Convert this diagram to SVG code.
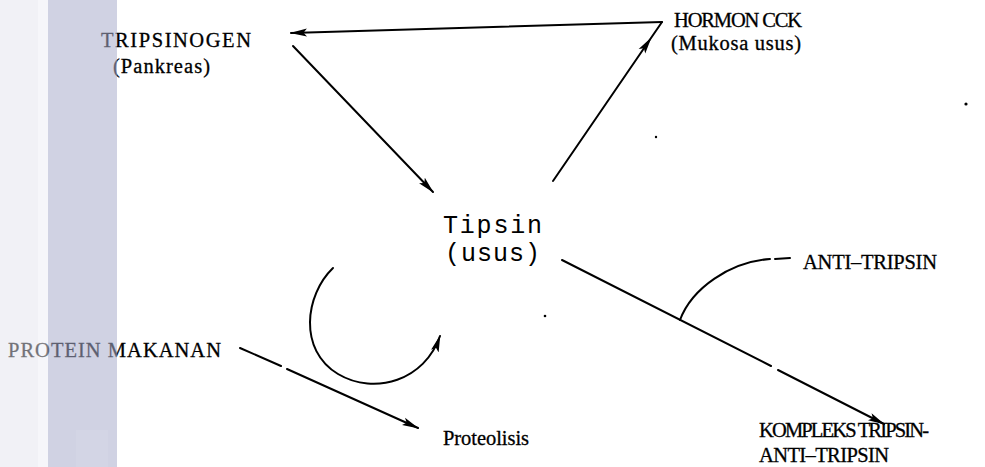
<svg xmlns="http://www.w3.org/2000/svg" width="985" height="467" viewBox="0 0 985 467">
<style>
.t{font-family:"Liberation Serif","Times New Roman",serif;font-size:20.5px;fill:#000;stroke:#000;stroke-width:0.3}
.m{font-family:"Liberation Mono","Courier New",monospace;font-size:25px;fill:#000}
.c{fill:none;stroke:#000;stroke-width:2;stroke-linecap:round}
</style>
<defs>
<marker id="ah" viewBox="0 0 17 9" refX="16" refY="4.5" markerWidth="17" markerHeight="9" markerUnits="userSpaceOnUse" orient="auto">
<path d="M0,0.5 L17,4.5 L0,8.5 L3.5,4.5 Z" fill="#000"/>
</marker>
</defs>
<rect width="985" height="467" fill="#fff"/>
<g id="connectors">
<path class="c" d="M662,22 L291,33" marker-end="url(#ah)"/>
<path class="c" d="M293,46 L433,192" marker-end="url(#ah)"/>
<path class="c" d="M553,181 L651,38 L662,22" marker-mid="url(#ah)"/>
<path class="c" d="M240,348 L281,366 M287,369 L418,428" marker-end="url(#ah)"/>
<path class="c" d="M562,260 L771,366 M778,370 L884,424" marker-end="url(#ah)"/>
<path class="c" d="M790,258 L775,259 M770,259 C730,262 692,288 680,320"/>
<path class="c" d="M333,268 C305,295 298,350 338,374 C375,396 425,380 440,336" marker-end="url(#ah)"/>
</g>
<g id="node-tripsinogen">
<text class="t" x="101" y="47" textLength="150" lengthAdjust="spacing">TRIPSINOGEN</text>
<text class="t" x="113" y="73" textLength="97" lengthAdjust="spacing">(Pankreas)</text>
</g>
<g id="node-hormon">
<text class="t" x="674" y="27" textLength="128" lengthAdjust="spacing">HORMON CCK</text>
<text class="t" x="671" y="50" textLength="130" lengthAdjust="spacing">(Mukosa usus)</text>
</g>
<g id="node-tipsin">
<text class="m" x="443" y="233" textLength="99" lengthAdjust="spacing">Tipsin</text>
<text class="m" x="445" y="261" textLength="95" lengthAdjust="spacing">(usus)</text>
</g>
<g id="node-antitripsin">
<text class="t" x="803" y="269" textLength="134" lengthAdjust="spacing">ANTI–TRIPSIN</text>
</g>
<g id="node-protein">
<text class="t" x="8" y="357" textLength="213" lengthAdjust="spacing">PROTEIN MAKANAN</text>
</g>
<g id="node-proteolisis">
<text class="t" x="443" y="445" textLength="86" lengthAdjust="spacing">Proteolisis</text>
</g>
<g id="node-kompleks">
<text class="t" x="759" y="437" textLength="170" lengthAdjust="spacing">KOMPLEKS TRIPSIN-</text>
<text class="t" x="759" y="462" textLength="130" lengthAdjust="spacing">ANTI–TRIPSIN</text>
</g>
<g id="dots" fill="#000">
<circle cx="656" cy="137" r="1.2"/>
<circle cx="545" cy="316" r="1.3"/>
<circle cx="966" cy="104" r="1.6"/>
</g>
<g id="band">
<rect x="0" y="0" width="38" height="467" fill="#e4e4ee" opacity="0.5"/>
<rect x="38" y="0" width="10" height="467" fill="#eeeef6" opacity="0.5"/>
<rect x="48" y="0" width="69" height="467" fill="#a9adcc" opacity="0.55"/>
<rect x="76" y="430" width="32" height="37" fill="#ffffff" opacity="0.08"/>
</g>
</svg>
